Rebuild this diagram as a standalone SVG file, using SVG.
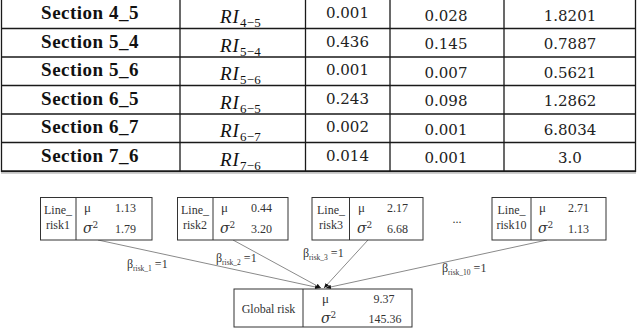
<svg xmlns="http://www.w3.org/2000/svg" width="640" height="330" viewBox="0 0 640 330">
<defs>
<style>
.tl{stroke:#1a1a1a;stroke-width:1.3;fill:none}
.sec{font-family:"Liberation Serif","Times New Roman",serif;font-weight:bold;font-size:19px;letter-spacing:0.5px;fill:#111;text-anchor:middle}
.ri{font-family:"Liberation Serif","Times New Roman",serif;font-style:italic;font-size:19px;letter-spacing:1px;fill:#111}
.sub{font-family:"Liberation Serif","Times New Roman",serif;font-style:normal;font-size:13px;letter-spacing:0.3px;fill:#111}
.num{font-family:"DejaVu Serif",serif;font-size:15px;fill:#222;text-anchor:middle}
.box{fill:#fff;stroke:#333;stroke-width:1}
.t{font-family:"Liberation Serif","Times New Roman",serif;font-size:12px;fill:#333}
.mid{text-anchor:middle}
.mu{font-family:"Liberation Serif","Times New Roman",serif;font-size:13px;fill:#333}
.sg{font-family:"DejaVu Serif",serif;font-style:italic;font-size:14px;fill:#333}
.conn{stroke:#8a8a8a;stroke-width:1;fill:none;marker-end:url(#ah)}
.lb{font-family:"Liberation Serif","Times New Roman",serif;font-size:12px;fill:#333}
.lbs{font-size:7.5px}
</style>
<marker id="ah" markerWidth="6" markerHeight="6" refX="5" refY="3" orient="auto" markerUnits="userSpaceOnUse">
<path d="M0,0.8 L5,3 L0,5.2 Z" fill="#111"/>
</marker>
</defs>
<rect width="640" height="330" fill="#fff"/>

<g id="table">
<path class="tl" d="M1.5,0 V172 M180,0 V172 M305.5,0 V172 M390,0 V172 M504,0 V172 M635.5,0 V172"/>
<path class="tl" d="M1,28.5 H636 M1,57 H636 M1,85.5 H636 M1,114 H636 M1,142.5 H636"/>
<path d="M1,171.3 H636" stroke="#1a1a1a" stroke-width="2"/>
<path d="M1,173.2 H636" stroke="#bbb" stroke-width="1"/>

<text class="sec" x="90" y="19">Section 4_5</text>
<text class="sec" x="90" y="47.5">Section 5_4</text>
<text class="sec" x="90" y="76">Section 5_6</text>
<text class="sec" x="90" y="104.5">Section 6_5</text>
<text class="sec" x="90" y="133">Section 6_7</text>
<text class="sec" x="90" y="161.5">Section 7_6</text>

<text class="ri" x="220" y="23.3">RI<tspan class="sub" dy="4">4−5</tspan></text>
<text class="ri" x="220" y="51.8">RI<tspan class="sub" dy="4">5−4</tspan></text>
<text class="ri" x="220" y="80.3">RI<tspan class="sub" dy="4">5−6</tspan></text>
<text class="ri" x="220" y="108.8">RI<tspan class="sub" dy="4">6−5</tspan></text>
<text class="ri" x="220" y="137.3">RI<tspan class="sub" dy="4">6−7</tspan></text>
<text class="ri" x="220" y="165.8">RI<tspan class="sub" dy="4">7−6</tspan></text>

<text class="num" x="347.5" y="18.3">0.001</text>
<text class="num" x="347.5" y="46.8">0.436</text>
<text class="num" x="347.5" y="75.3">0.001</text>
<text class="num" x="347.5" y="103.8">0.243</text>
<text class="num" x="347.5" y="132.3">0.002</text>
<text class="num" x="347.5" y="160.8">0.014</text>

<text class="num" x="446" y="20.8">0.028</text>
<text class="num" x="446" y="49.3">0.145</text>
<text class="num" x="446" y="77.8">0.007</text>
<text class="num" x="446" y="106.3">0.098</text>
<text class="num" x="446" y="134.8">0.001</text>
<text class="num" x="446" y="163.3">0.001</text>

<text class="num" x="570" y="20.6">1.8201</text>
<text class="num" x="570" y="49.1">0.7887</text>
<text class="num" x="570" y="77.6">0.5621</text>
<text class="num" x="570" y="106.1">1.2862</text>
<text class="num" x="570" y="134.6">6.8034</text>
<text class="num" x="570" y="163.1">3.0</text>
</g>

<g id="connectors">
<line class="conn" x1="98" y1="240" x2="320" y2="288"/>
<line class="conn" x1="233" y1="240" x2="321" y2="288"/>
<line class="conn" x1="368" y1="240" x2="324" y2="288"/>
<line class="conn" x1="547" y1="240" x2="326" y2="288"/>
<text class="lb" x="127" y="268">β<tspan class="lbs" dy="2.5">risk_1</tspan><tspan dy="-2.5"> =1</tspan></text>
<text class="lb" x="216" y="262">β<tspan class="lbs" dy="2.5">risk_2</tspan><tspan dy="-2.5"> =1</tspan></text>
<text class="lb" x="303" y="257">β<tspan class="lbs" dy="2.5">risk_3</tspan><tspan dy="-2.5"> =1</tspan></text>
<text class="lb" x="442" y="272">β<tspan class="lbs" dy="2.5">risk_10</tspan><tspan dy="-2.5"> =1</tspan></text>
</g>

<g id="line-risk1">
<rect class="box" x="40.5" y="197.5" width="111.5" height="42.5"/>
<line x1="76" y1="197.5" x2="76" y2="240" stroke="#333"/>
<text class="t mid" x="58" y="214">Line_</text>
<text class="t mid" x="58" y="229">risk1</text>
<text class="mu" x="84" y="211.5">μ</text>
<text class="t mid" x="125.5" y="211.5">1.13</text>
<text class="sg" x="83" y="233">σ<tspan font-size="9" font-style="normal" dy="-5">2</tspan></text>
<text class="t mid" x="125.5" y="232.5">1.79</text>
</g>

<g id="line-risk2">
<rect class="box" x="177.5" y="197.5" width="110.5" height="42.5"/>
<line x1="213" y1="197.5" x2="213" y2="240" stroke="#333"/>
<text class="t mid" x="195" y="214">Line_</text>
<text class="t mid" x="195" y="229">risk2</text>
<text class="mu" x="221" y="211.5">μ</text>
<text class="t mid" x="261.5" y="211.5">0.44</text>
<text class="sg" x="220" y="233">σ<tspan font-size="9" font-style="normal" dy="-5">2</tspan></text>
<text class="t mid" x="261.5" y="232.5">3.20</text>
</g>

<g id="line-risk3">
<rect class="box" x="312" y="197.5" width="111" height="42.5"/>
<line x1="349.5" y1="197.5" x2="349.5" y2="240" stroke="#333"/>
<text class="t mid" x="331" y="214">Line_</text>
<text class="t mid" x="331" y="229">risk3</text>
<text class="mu" x="358" y="211.5">μ</text>
<text class="t mid" x="397.5" y="211.5">2.17</text>
<text class="sg" x="357" y="233">σ<tspan font-size="9" font-style="normal" dy="-5">2</tspan></text>
<text class="t mid" x="397.5" y="232.5">6.68</text>
</g>

<text class="t mid" x="457" y="223" font-size="9">...</text>

<g id="line-risk10">
<rect class="box" x="492" y="197.5" width="114" height="42.5"/>
<line x1="531" y1="197.5" x2="531" y2="240" stroke="#333"/>
<text class="t mid" x="511.5" y="214">Line_</text>
<text class="t mid" x="511.5" y="229">risk10</text>
<text class="mu" x="539" y="211.5">μ</text>
<text class="t mid" x="578.5" y="211.5">2.71</text>
<text class="sg" x="538" y="233">σ<tspan font-size="9" font-style="normal" dy="-5">2</tspan></text>
<text class="t mid" x="578.5" y="232.5">1.13</text>
</g>

<g id="global-risk">
<rect class="box" x="234" y="289" width="178" height="38"/>
<line x1="303" y1="289" x2="303" y2="327" stroke="#333"/>
<text class="t mid" x="268.5" y="313">Global risk</text>
<text class="mu" x="322" y="303">μ</text>
<text class="t mid" x="384" y="303">9.37</text>
<text class="sg" x="321" y="323">σ<tspan font-size="9" font-style="normal" dy="-5">2</tspan></text>
<text class="t mid" x="385" y="323">145.36</text>
</g>
</svg>
